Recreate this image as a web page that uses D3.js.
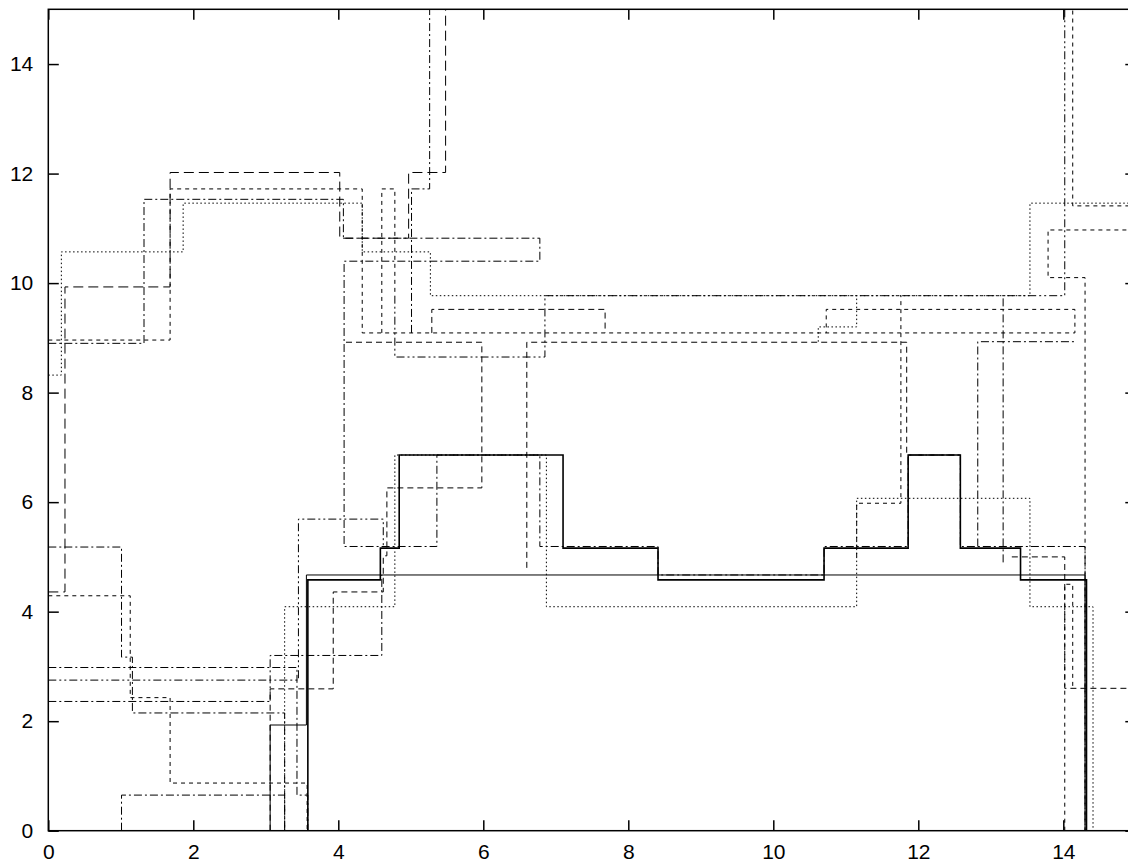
<!DOCTYPE html>
<html><head><meta charset="utf-8">
<script src="https://cdn.jsdelivr.net/npm/d3@7"></script>
<style>body{margin:0;background:#fff}svg{display:block}</style></head>
<body><svg id="c" width="1128" height="865"></svg>
<script>
// ---- data (x, level) step points ----
const xTicks = [0, 2, 4, 6, 8, 10, 12, 14];
const yTicks = [0, 2, 4, 6, 8, 10, 12, 14];

const solidMain = [[3.58,0],[3.58,4.58],[4.58,5.16],[4.84,6.86],[7.10,5.16],[8.41,4.58],[10.70,5.16],[11.86,6.86],[12.58,5.16],[13.41,4.58],[14.32,0]];
const solidThin = [[3.06,0],[3.06,1.93],[3.56,4.67],[14.30,0]];
const dottedA = [[3.26,0],[3.26,4.09],[4.78,6.86],[6.87,4.09],[11.15,6.07],[13.54,4.09],[14.41,0]];
const longDashA = [[0,4.36],[0.23,9.93],[1.68,12.02],[4.02,10.82],[4.97,12.02],[5.48,16]];
const dottedB = [[0,8.32],[0.18,10.57],[1.86,11.46],[4.33,10.57],[5.27,9.77],[13.54,11.46],[15.5,11.46]];
const dashDotA = [[0,8.9],[1.32,11.53],[4.07,10.82],[6.78,10.40],[4.08,5.19],[5.36,6.86],[6.78,5.19],[8.41,4.67],[10.70,5.19],[11.86,6.86],[12.58,5.19],[14.30,4.67],[14.30,0]];
const shortDashA = [[0,8.96],[1.68,11.72],[4.33,9.09],[14.16,9.52],[10.73,9.09]];
const dashB = [[3.06,0],[3.06,2.59],[3.93,4.36],[4.62,5.02],[4.67,6.26],[5.98,8.92],[4.08,8.92]];
const dashC = [[6.60,4.8],[6.60,8.92],[11.84,6.86],[12.58,6.86]];
const dashDotDotA = [[4.78,9.77],[4.78,8.65],[6.85,9.77],[14.02,16]];
const dashDotB = [[0,5.18],[1.01,3.17],[1.16,2.15],[3.26,0]];
const dashDotC = [[1.01,0],[1.01,0.65],[3.26,0]];
const shortDashB = [[0,4.29],[1.13,2.43],[1.68,0.87],[3.57,0]];
const dashDotD = [[0,2.98],[3.43,0.65],[3.58,0]];
const dashDotDotB = [[0,2.75],[3.45,5.69],[4.62,5.19]];
const dashDotE = [[0,2.36],[3.06,3.2],[4.60,4.67]];
const dashD = [[13.29,5.0],[14.02,2.6],[15.5,2.6]];
const dashE = [[14.30,0],[14.30,10.1],[13.79,10.97],[15.5,10.97]];
const dashF = [[14.13,16],[14.13,11.41],[15.5,11.41]];
const dashG = [[5.29,9.09],[5.29,9.52],[7.68,9.09]];
const dashDotF = [[12.82,5.19],[12.82,8.93],[14.16,8.93]];
const dashH = [[11.15,5.0],[11.15,5.98],[11.76,9.77]];
const dottedC = [[10.62,8.93],[10.62,9.2],[11.15,9.77]];
const dashDotG = [[5.01,9.09],[5.01,11.72],[5.26,16]];
const shortDashC = [[4.60,9.09],[4.60,11.72],[4.78,9.77]];
const dashDotH = [[13.17,4.9],[13.17,9.77]];
const shortDashD = [[14.02,0],[14.02,4.5],[14.13,2.6]];

const SOLID = null, LONG = "10,5", SHORT = "4,4", DOT = "1.5,2.5", DD = "8,3,2,3", DDD = "8,3,2,3,2,3";
const series = [
  {d: solidMain, dash: SOLID, w: 1.6},
  {d: solidThin, dash: SOLID, w: 1},
  {d: dottedA, dash: DOT, w: 1},
  {d: longDashA, dash: LONG, w: 1},
  {d: dottedB, dash: DOT, w: 1},
  {d: dashDotA, dash: DD, w: 1},
  {d: shortDashA, dash: SHORT, w: 1},
  {d: dashB, dash: "6,4", w: 1},
  {d: dashC, dash: "6,4", w: 1},
  {d: dashDotDotA, dash: DDD, w: 1},
  {d: dashDotB, dash: DD, w: 1},
  {d: dashDotC, dash: DD, w: 1},
  {d: shortDashB, dash: SHORT, w: 1},
  {d: dashDotD, dash: DD, w: 1},
  {d: dashDotDotB, dash: DDD, w: 1},
  {d: dashDotE, dash: DD, w: 1},
  {d: dashD, dash: "6,4", w: 1},
  {d: dashE, dash: SHORT, w: 1},
  {d: dashF, dash: SHORT, w: 1},
  {d: dashG, dash: "6,4", w: 1},
  {d: dashDotF, dash: DD, w: 1},
  {d: dashH, dash: SHORT, w: 1},
  {d: dottedC, dash: DOT, w: 1},
  {d: dashDotG, dash: DD, w: 1},
  {d: shortDashC, dash: SHORT, w: 1},
  {d: dashDotH, dash: DD, w: 1},
  {d: shortDashD, dash: SHORT, w: 1}
];

// ---- layout ----
const L = 48.3, T = 9.3, R = 1135.8, B = 830.7;
const x = d3.scaleLinear().domain([0, 15]).range([L, R]);
const y = d3.scaleLinear().domain([0, 15]).range([B, T]);
const svg = d3.select("#c");

svg.append("defs").append("clipPath").attr("id", "clip")
  .append("rect").attr("x", L).attr("y", T).attr("width", R - L).attr("height", B - T);

const line = d3.line().x(d => x(d[0])).y(d => y(d[1])).curve(d3.curveStepAfter);
const g = svg.append("g").attr("clip-path", "url(#clip)");
series.forEach(s => {
  g.append("path").attr("d", line(s.d)).attr("fill", "none")
    .attr("stroke", "#000").attr("stroke-width", s.w)
    .attr("stroke-dasharray", s.dash);
});

// frame
svg.append("rect").attr("x", L).attr("y", T).attr("width", R - L).attr("height", B - T)
  .attr("fill", "none").attr("stroke", "#000").attr("stroke-width", 1.5);

const font = "'Liberation Sans', Arial, sans-serif";
const tk = 10.5;
const ax = svg.append("g").attr("transform", `translate(0,${B})`)
  .call(d3.axisBottom(x).tickValues(xTicks).tickSize(-tk).tickPadding(20).tickFormat(d3.format("d")));
svg.append("g").attr("transform", `translate(0,${T})`)
  .call(d3.axisTop(x).tickValues(xTicks).tickSize(-tk).tickFormat(""));
const ay = svg.append("g").attr("transform", `translate(${L},0)`)
  .call(d3.axisLeft(y).tickValues(yTicks).tickSize(-tk).tickPadding(15).tickFormat(d3.format("d")));
svg.append("g").attr("transform", `translate(${R},0)`)
  .call(d3.axisRight(y).tickValues(yTicks).tickSize(-tk).tickFormat(""));

svg.selectAll(".domain").remove();
svg.selectAll(".tick line").attr("stroke", "#000").attr("stroke-width", 1.5);
svg.selectAll(".tick text").attr("font-family", font).attr("font-size", 21).attr("fill", "#000");
ax.selectAll(".tick text").attr("dy", null).attr("y", 860);
ax.selectAll(".tick text").attr("y", 860 - B - 0.5);
</script></body></html>
